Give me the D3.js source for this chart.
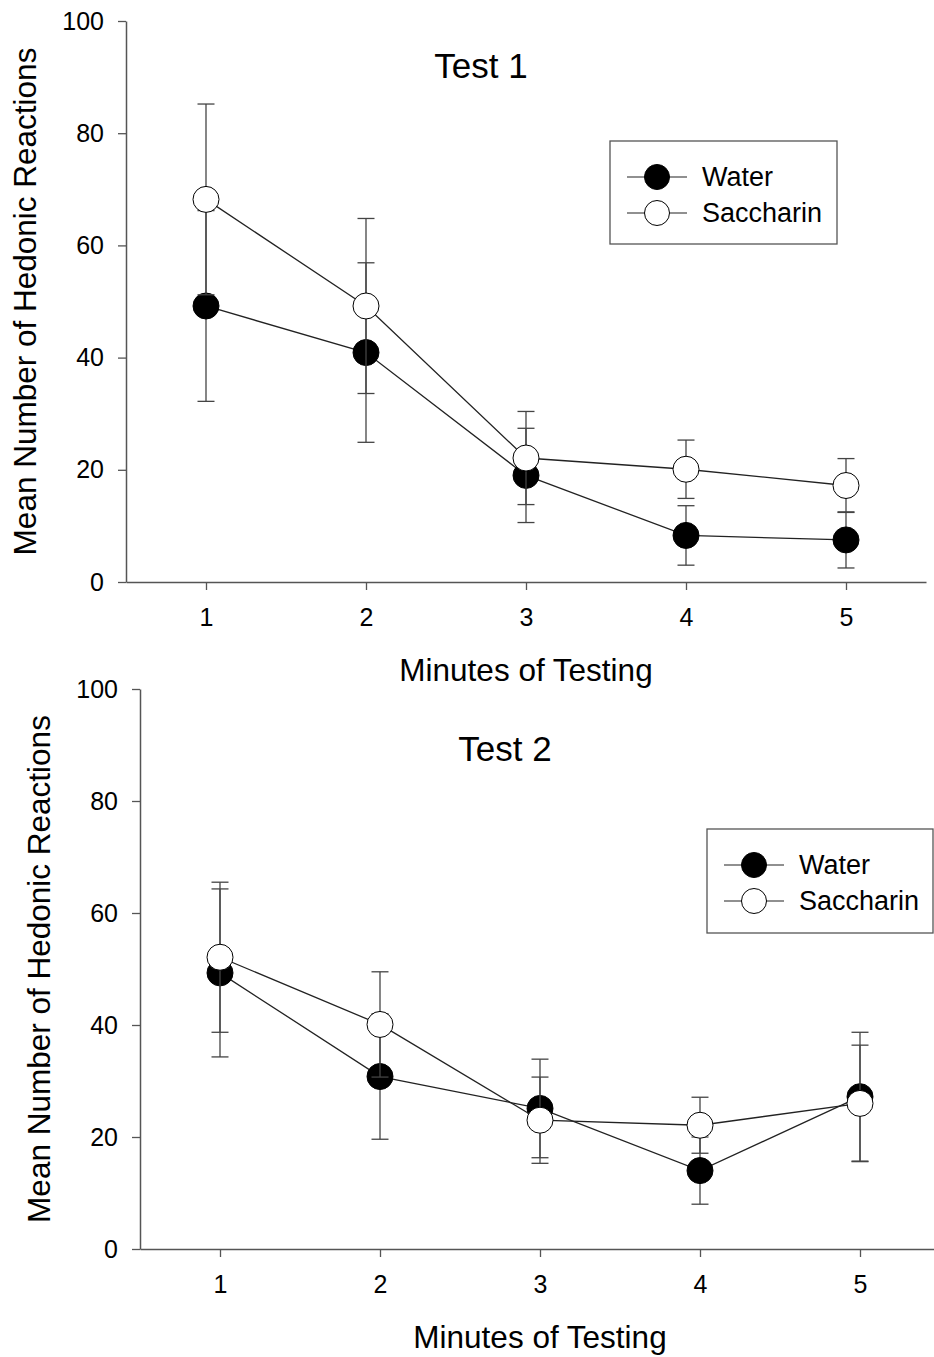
<!DOCTYPE html>
<html>
<head>
<meta charset="utf-8">
<script src="https://cdn.jsdelivr.net/npm/d3@7"></script>
<style>
  body { margin: 0; background: #ffffff; }
  svg { display: block; }
  text { font-family: "Liberation Sans", Arial, sans-serif; fill: #000; }
</style>
</head>
<body>
<div id="div_template"></div>
<script>
// *****************************************************************************
// data
// *****************************************************************************
var minutes = [1, 2, 3, 4, 5];
var yTicks = [0, 20, 40, 60, 80, 100];
var seriesNames = ["Water", "Saccharin"];

var test1Water = [49.2, 40.9, 19.0, 8.3, 7.5];
var test1WaterErr = [17.0, 16.0, 8.4, 5.3, 5.0];
var test1Saccharin = [68.2, 49.2, 22.1, 20.1, 17.2];
var test1SaccharinErr = [17.0, 15.6, 8.3, 5.2, 4.8];

var test2Water = [49.3, 30.8, 25.1, 14.0, 27.2];
var test2WaterErr = [15.0, 11.2, 8.8, 6.0, 11.5];
var test2Saccharin = [52.1, 40.1, 23.0, 22.1, 26.0];
var test2SaccharinErr = [13.4, 9.4, 7.7, 5.0, 10.4];

var FONT = '"Liberation Sans", Arial, sans-serif';

var svg = d3
  .select("#div_template")
  .append("svg")
  .attr("width", 934)
  .attr("height", 1357);

svg.append("rect").attr("width", 934).attr("height", 1357).attr("fill", "white");

drawPanel({
  title: "Test 1",
  left: 126, right: 926, top: 21, bottom: 582,
  titleX: 481, titleY: 78,
  yLabelX: 36,
  legend: { x: 610, y: 141, w: 227, h: 103 },
  water: test1Water, waterErr: test1WaterErr,
  sacch: test1Saccharin, sacchErr: test1SaccharinErr
});

drawPanel({
  title: "Test 2",
  left: 140, right: 940, top: 689, bottom: 1249,
  titleX: 505, titleY: 761,
  yLabelX: 50,
  legend: { x: 707, y: 829, w: 226, h: 104 },
  water: test2Water, waterErr: test2WaterErr,
  sacch: test2Saccharin, sacchErr: test2SaccharinErr
});

// *****************************************************************************
// drawPanel
// *****************************************************************************
function drawPanel(p) {
  var g = svg.append("g");

  var x = d3.scaleLinear().domain([0.5, 5.5]).range([p.left, p.right]);
  var y = d3.scaleLinear().domain([0, 100]).range([p.bottom, p.top]);

  // axes
  var xAxis = g
    .append("g")
    .attr("transform", "translate(0," + p.bottom + ")")
    .call(d3.axisBottom(x).tickValues(minutes).tickFormat(d3.format("d"))
      .tickSize(8).tickSizeOuter(0).tickPadding(18));
  var yAxis = g
    .append("g")
    .attr("transform", "translate(" + p.left + ",0)")
    .call(d3.axisLeft(y).tickValues(yTicks).tickFormat(d3.format("d"))
      .tickSize(8).tickSizeOuter(0).tickPadding(14));

  [xAxis, yAxis].forEach(function (ax) {
    ax.select(".domain").attr("stroke", "#555").attr("stroke-width", 1.5);
    ax.selectAll(".tick line").attr("stroke", "#555").attr("stroke-width", 1.3);
    ax.selectAll(".tick text")
      .style("font-family", FONT)
      .style("font-size", "25px")
      .attr("fill", "#000");
  });

  // axis titles
  g.append("text")
    .attr("x", (p.left + p.right) / 2)
    .attr("y", p.bottom + 99)
    .attr("text-anchor", "middle")
    .style("font-size", "31.5px")
    .text("Minutes of Testing");

  g.append("text")
    .attr("transform", "translate(" + p.yLabelX + "," + (p.top + p.bottom) / 2 + ") rotate(-90)")
    .attr("text-anchor", "middle")
    .style("font-size", "31.5px")
    .text("Mean Number of Hedonic Reactions");

  g.append("text")
    .attr("x", p.titleX)
    .attr("y", p.titleY)
    .attr("text-anchor", "middle")
    .style("font-size", "35px")
    .text(p.title);

  // series: water first, saccharin drawn on top
  drawSeries(g, x, y, p.water, p.waterErr, "#000");
  drawSeries(g, x, y, p.sacch, p.sacchErr, "#fff");

  // legend
  var lg = g.append("g").attr("transform", "translate(" + p.legend.x + "," + p.legend.y + ")");
  lg.append("rect")
    .attr("width", p.legend.w)
    .attr("height", p.legend.h)
    .attr("fill", "white")
    .attr("stroke", "#555")
    .attr("stroke-width", 1.3);

  seriesNames.forEach(function (name, i) {
    var cy = 36 + i * 36;
    lg.append("line")
      .attr("x1", 17).attr("x2", 77)
      .attr("y1", cy).attr("y2", cy)
      .attr("stroke", "#222").attr("stroke-width", 1.2);
    lg.append("circle")
      .attr("cx", 47).attr("cy", cy).attr("r", 12.5)
      .attr("fill", i == 0 ? "#000" : "#fff")
      .attr("stroke", "#000").attr("stroke-width", 1);
    lg.append("text")
      .attr("x", 92).attr("y", cy + 9)
      .style("font-size", "27px")
      .text(name);
  });
}

function drawSeries(g, x, y, vals, errs, fill) {
  var pts = minutes.map(function (m, i) {
    return { m: m, v: vals[i], e: errs[i] };
  });

  // error bars
  var eb = g.append("g").attr("stroke", "#444").attr("stroke-width", 1.3);
  eb.selectAll("line.bar")
    .data(pts)
    .enter()
    .append("line")
    .attr("x1", function (d) { return x(d.m); })
    .attr("x2", function (d) { return x(d.m); })
    .attr("y1", function (d) { return y(d.v - d.e); })
    .attr("y2", function (d) { return y(d.v + d.e); });
  [-1, 1].forEach(function (s) {
    eb.selectAll("line.cap" + (s + 1))
      .data(pts)
      .enter()
      .append("line")
      .attr("x1", function (d) { return x(d.m) - 8.5; })
      .attr("x2", function (d) { return x(d.m) + 8.5; })
      .attr("y1", function (d) { return y(d.v + s * d.e); })
      .attr("y2", function (d) { return y(d.v + s * d.e); });
  });

  // line
  g.append("path")
    .datum(pts)
    .attr("fill", "none")
    .attr("stroke", "#222")
    .attr("stroke-width", 1.3)
    .attr("d", d3.line()
      .x(function (d) { return x(d.m); })
      .y(function (d) { return y(d.v); }));

  // markers
  g.selectAll("circle.pt")
    .data(pts)
    .enter()
    .append("circle")
    .attr("cx", function (d) { return x(d.m); })
    .attr("cy", function (d) { return y(d.v); })
    .attr("r", 13)
    .attr("fill", fill)
    .attr("stroke", "#000")
    .attr("stroke-width", 1);
}
</script>
</body>
</html>
